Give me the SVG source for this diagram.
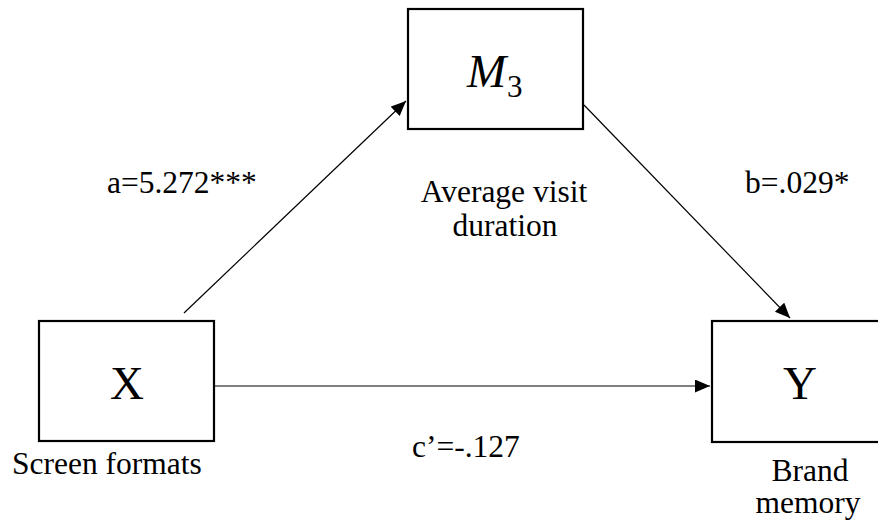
<svg xmlns="http://www.w3.org/2000/svg" width="878" height="529" viewBox="0 0 878 529">
  <style>
    .box { fill: #ffffff; stroke: #000000; stroke-width: 2.2; }
    .link { fill: none; stroke: #000000; stroke-width: 1.2; }
    .lbl { font-family: "Liberation Serif", "Times New Roman", serif; font-size: 31.5px; fill: #000000; }
    .big { font-family: "Liberation Serif", "Times New Roman", serif; font-size: 47px; fill: #000000; text-anchor: middle; }
    .mid { text-anchor: middle; }
  </style>
  <defs>
    <marker id="arrow" markerUnits="userSpaceOnUse" markerWidth="16" markerHeight="14" refX="15" refY="6.5" orient="auto">
      <path d="M0,0 L15,6.5 L0,13 Z" fill="#000000"/>
    </marker>
  </defs>
  <rect width="878" height="529" fill="#ffffff"/>

  <!-- paths between the variables -->
  <g id="connectors">
    <line class="link" x1="184" y1="313" x2="406" y2="101" marker-end="url(#arrow)"/>
    <line class="link" x1="584" y1="105" x2="790" y2="318" marker-end="url(#arrow)"/>
    <line class="link" x1="215" y1="386" x2="710" y2="386" marker-end="url(#arrow)"/>
  </g>

  <!-- mediator -->
  <g id="node-m3">
    <rect class="box" x="408" y="9" width="175" height="120"/>
    <text x="467" y="87" font-family="Liberation Serif, serif" font-size="47" font-style="italic">M</text>
    <text x="507" y="97" font-family="Liberation Serif, serif" font-size="31">3</text>
    <text class="lbl mid" x="504" y="202">Average visit</text>
    <text class="lbl mid" x="505" y="236">duration</text>
  </g>

  <!-- independent variable -->
  <g id="node-x">
    <rect class="box" x="39" y="321" width="175" height="120"/>
    <text class="big" x="127" y="399">X</text>
    <text class="lbl" x="12" y="474">Screen formats</text>
  </g>

  <!-- dependent variable -->
  <g id="node-y">
    <rect class="box" x="712" y="321" width="176" height="121"/>
    <text class="big" x="800" y="399">Y</text>
    <text class="lbl mid" x="810" y="481">Brand</text>
    <text class="lbl mid" x="808" y="513">memory</text>
  </g>

  <!-- path coefficients -->
  <g id="coefficients">
    <text class="lbl" x="107" y="193">a=5.272***</text>
    <text class="lbl" x="745" y="193">b=.029*</text>
    <text class="lbl" x="412" y="457">c’=-.127</text>
  </g>
</svg>
